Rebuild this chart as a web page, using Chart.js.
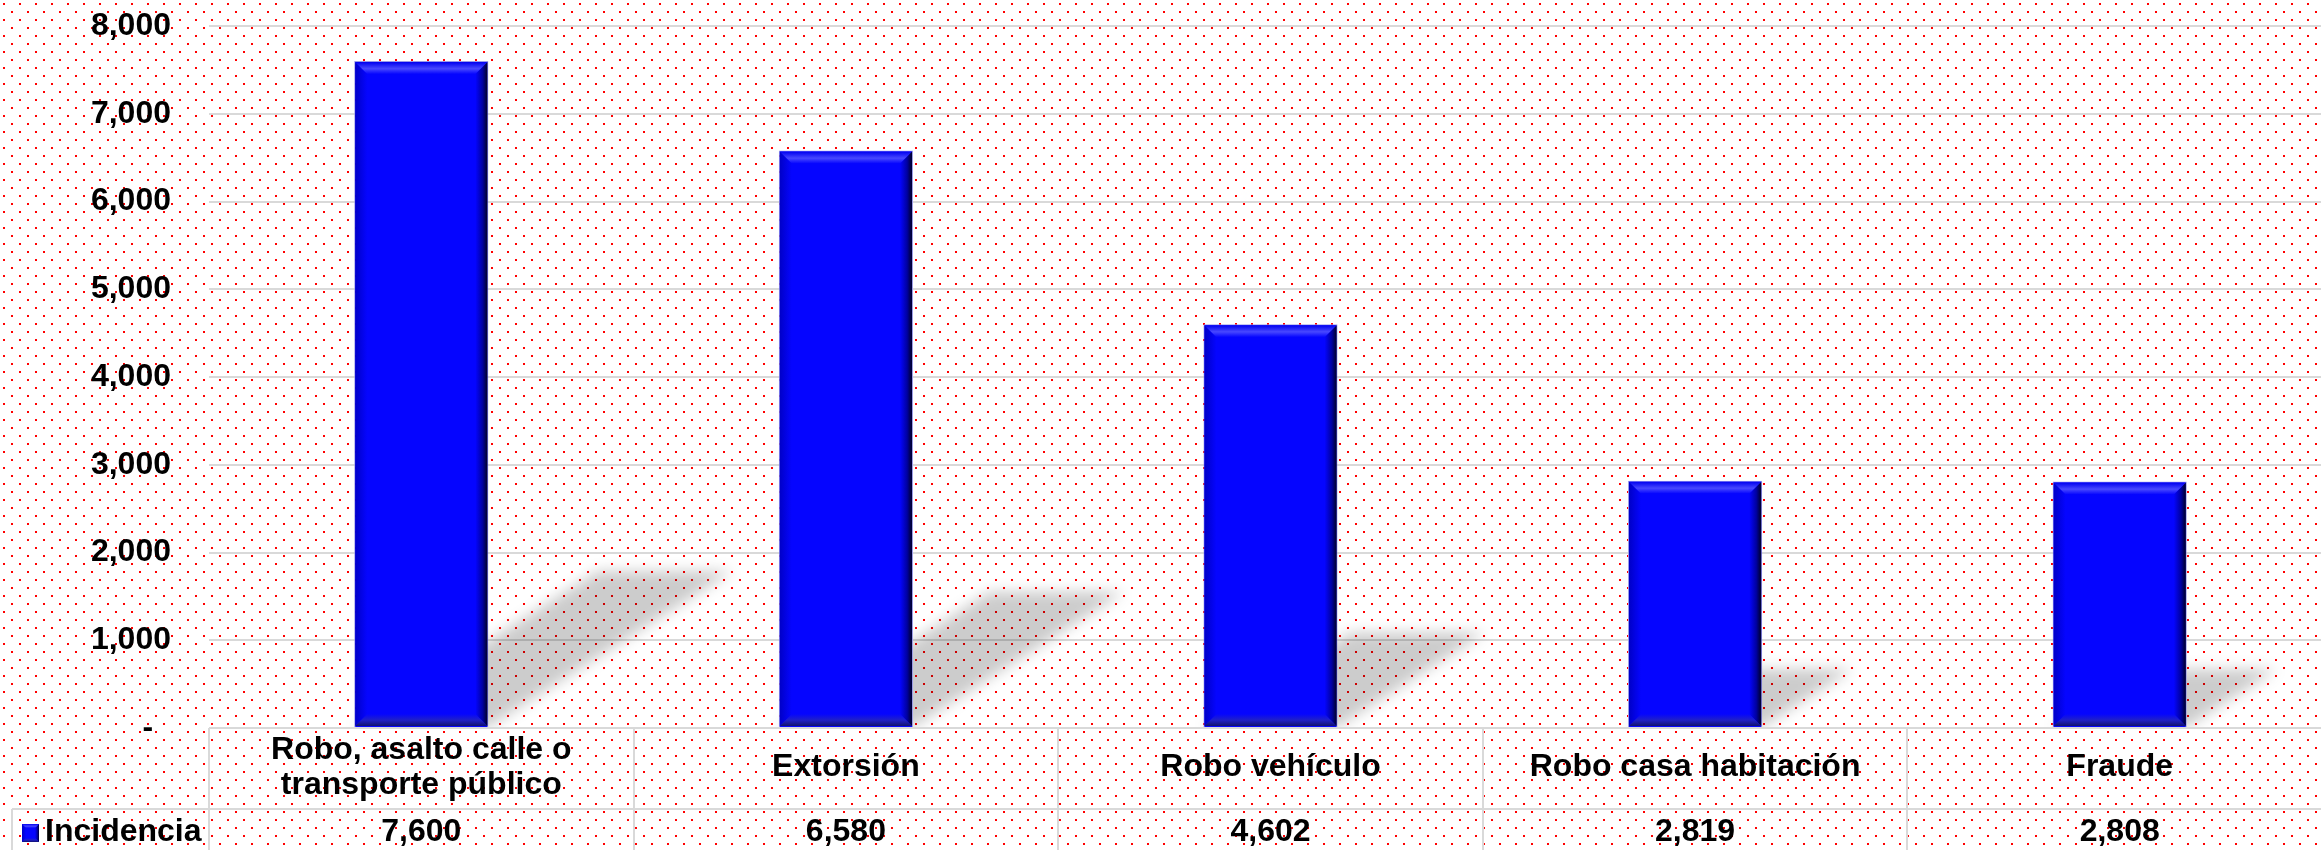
<!DOCTYPE html>
<html>
<head>
<meta charset="utf-8">
<title>Incidencia</title>
<script src="https://cdn.jsdelivr.net/npm/chart.js@4/dist/chart.umd.min.js"></script>
<style>
  html, body { margin: 0; padding: 0; overflow: hidden; background: #fff; }
  #wrap { width: 2332px; height: 850px; }
</style>
</head>
<body>
<div id="wrap"><canvas id="c" width="2332" height="850"></canvas></div>
<script>
// 1. Data
const categories = [
    ['Robo, asalto calle o', 'transporte público'],
    'Extorsión',
    'Robo vehículo',
    'Robo casa habitación',
    'Fraude'
];
const incidencia = [7600, 6580, 4602, 2819, 2808];
const seriesName = 'Incidencia';
const yTicks = [0, 1000, 2000, 3000, 4000, 5000, 6000, 7000, 8000];

// 2. Look
const FONT = '"Liberation Sans", Arial, sans-serif';
const LINE = '#d9d9d9';
const BLUE = '#0505ff';

const fmt = v => v === 0 ? '-  ' : v.toLocaleString('en-US');

// 3. Plugins
// dotted paper background
const paper = {
    id: 'paper',
    beforeDraw(chart) {
        const { ctx } = chart;
        const tile = document.createElement('canvas');
        tile.width = 16; tile.height = 16;
        const t = tile.getContext('2d');
        t.fillStyle = '#fff';
        t.fillRect(0, 0, 16, 16);
        t.fillStyle = '#ff0000';
        t.fillRect(3, 3, 2, 2);
        t.fillRect(11, 11, 2, 2);
        ctx.save();
        ctx.fillStyle = ctx.createPattern(tile, 'repeat');
        ctx.fillRect(0, 0, chart.width, chart.height);
        ctx.restore();
    }
};

// soft floor shadow behind each bar
const floorShadow = {
    id: 'floorShadow',
    beforeDatasetsDraw(chart) {
        const { ctx, chartArea } = chart;
        ctx.save();
        ctx.beginPath();
        ctx.rect(chartArea.left, chartArea.top, chartArea.right - chartArea.left, chartArea.bottom - chartArea.top);
        ctx.clip();
        ctx.filter = 'blur(7px)';
        ctx.fillStyle = 'rgba(0,0,0,0.2)';
        chart.getDatasetMeta(0).data.forEach(bar => {
            const L = bar.x - bar.width / 2, R = bar.x + bar.width / 2;
            const h = bar.base - bar.y;
            const dx = h * 0.366, dy = h * 0.234;
            ctx.beginPath();
            ctx.moveTo(L, bar.base);
            ctx.lineTo(R, bar.base);
            ctx.lineTo(R + dx, bar.base - dy);
            ctx.lineTo(L + dx, bar.base - dy);
            ctx.closePath();
            ctx.fill();
        });
        ctx.restore();
    }
};

function bevel(ctx, L, T, R, B, d) {
    let g;
    // left
    g = ctx.createLinearGradient(L, 0, L + d, 0);
    g.addColorStop(0, '#0000c8'); g.addColorStop(1, BLUE);
    ctx.fillStyle = g;
    ctx.beginPath();
    ctx.moveTo(L, T); ctx.lineTo(L + d, T + d); ctx.lineTo(L + d, B - d); ctx.lineTo(L, B);
    ctx.fill();
    // right
    g = ctx.createLinearGradient(R - d, 0, R, 0);
    g.addColorStop(0, BLUE); g.addColorStop(0.6, '#0000a0'); g.addColorStop(1, '#000028');
    ctx.fillStyle = g;
    ctx.beginPath();
    ctx.moveTo(R, T); ctx.lineTo(R - d, T + d); ctx.lineTo(R - d, B - d); ctx.lineTo(R, B);
    ctx.fill();
    // top
    g = ctx.createLinearGradient(0, T, 0, T + d);
    g.addColorStop(0, '#0000f0'); g.addColorStop(0.55, '#4848ff'); g.addColorStop(1, BLUE);
    ctx.fillStyle = g;
    ctx.beginPath();
    ctx.moveTo(L, T); ctx.lineTo(R, T); ctx.lineTo(R - d, T + d); ctx.lineTo(L + d, T + d);
    ctx.fill();
    // bottom
    g = ctx.createLinearGradient(0, B - d, 0, B);
    g.addColorStop(0, BLUE); g.addColorStop(0.5, '#2020c8'); g.addColorStop(1, '#101070');
    ctx.fillStyle = g;
    ctx.beginPath();
    ctx.moveTo(L, B); ctx.lineTo(R, B); ctx.lineTo(R - d, B - d); ctx.lineTo(L + d, B - d);
    ctx.fill();
}

// bevelled face on each bar
const barBevel = {
    id: 'barBevel',
    afterDatasetsDraw(chart) {
        const { ctx } = chart;
        ctx.save();
        chart.getDatasetMeta(0).data.forEach(bar => {
            const L = bar.x - bar.width / 2 + 1, R = bar.x + bar.width / 2 - 1;
            bevel(ctx, L, bar.y + 1, R, bar.base - 1, 12);
        });
        ctx.restore();
    }
};

// data table under the plot
const dataTable = {
    id: 'dataTable',
    afterDraw(chart) {
        const { ctx, chartArea } = chart;
        const x = chart.scales.x;
        const top = chartArea.bottom;
        const mid = x.bottom;
        const bottom = chart.height + 10;
        const rowLeft = 12;

        ctx.save();
        ctx.strokeStyle = LINE;
        ctx.lineWidth = 2;
        ctx.beginPath();
        ctx.moveTo(chartArea.left, top); ctx.lineTo(chartArea.right, top);
        ctx.moveTo(rowLeft, mid); ctx.lineTo(chartArea.right, mid);
        ctx.moveTo(rowLeft, mid); ctx.lineTo(rowLeft, bottom);
        for (let i = 0; i <= categories.length; i++) {
            const px = Math.round(x.getPixelForValue(i - 0.5));
            ctx.moveTo(px, top); ctx.lineTo(px, bottom);
        }
        ctx.stroke();

        ctx.fillStyle = '#000';
        ctx.font = 'bold 32px ' + FONT;
        ctx.textBaseline = 'middle';
        const rowY = mid + 23;

        ctx.textAlign = 'center';
        incidencia.forEach((v, i) => {
            ctx.fillText(fmt(v), x.getPixelForValue(i), rowY);
        });

        ctx.textAlign = 'left';
        ctx.fillText(seriesName, 45, rowY);

        // legend key
        const kx = 22, ky = rowY - 8;
        ctx.fillStyle = BLUE;
        ctx.fillRect(kx, ky, 17, 18);
        bevel(ctx, kx, ky, kx + 17, ky + 18, 4);
        ctx.restore();
    }
};

// 4. Chart
new Chart(document.getElementById('c'), {
    type: 'bar',
    data: {
        labels: categories,
        datasets: [{
            label: seriesName,
            data: incidencia,
            backgroundColor: BLUE,
            borderColor: '#9b9be6',
            borderWidth: 1,
            barPercentage: 0.316,
            categoryPercentage: 1
        }]
    },
    options: {
        responsive: false,
        animation: false,
        devicePixelRatio: 1,
        layout: { padding: { top: 26, bottom: 41, left: 0, right: 0 } },
        plugins: {
            legend: { display: false },
            tooltip: { enabled: false }
        },
        scales: {
            x: {
                grid: { display: false, drawTicks: false },
                border: { display: false },
                ticks: {
                    color: '#000',
                    padding: 22,
                    maxRotation: 0,
                    autoSkip: false,
                    crossAlign: 'center',
                    font: { family: FONT, size: 32, weight: 'bold', lineHeight: 1.1 }
                },
                afterFit: s => { s.height = 81; }
            },
            y: {
                min: yTicks[0],
                max: yTicks[yTicks.length - 1],
                // invisible tick marks keep the labels 38px off the plot
                grid: { color: LINE, lineWidth: 2, drawTicks: true, tickLength: 38, tickColor: 'rgba(0,0,0,0)' },
                border: { display: false },
                afterBuildTicks: s => { s.ticks = yTicks.map(v => ({ value: v })); },
                ticks: {
                    color: '#000',
                    padding: 0,
                    callback: v => fmt(v),
                    font: { family: FONT, size: 32, weight: 'bold' }
                },
                afterFit: s => { s.width = 209; }
            }
        }
    },
    plugins: [paper, floorShadow, barBevel, dataTable]
});
</script>
</body>
</html>
